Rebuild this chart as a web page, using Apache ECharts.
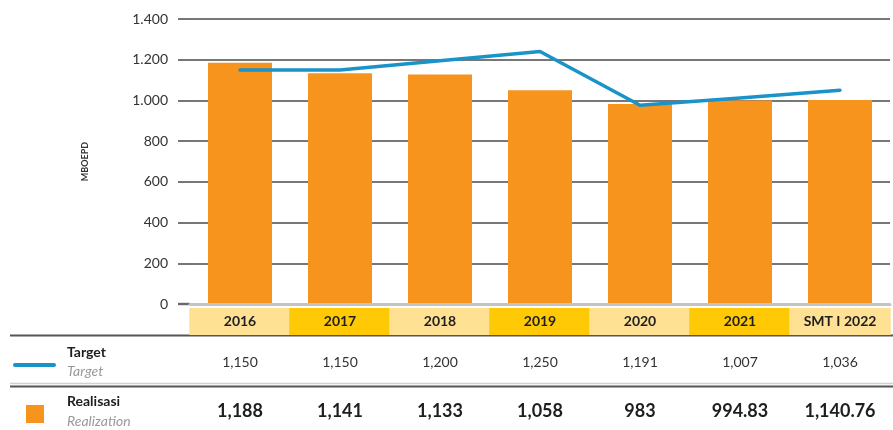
<!DOCTYPE html>
<html>
<head>
<meta charset="utf-8">
<script src="https://cdn.jsdelivr.net/npm/echarts@6/dist/echarts.min.js"></script>
<style>
  html, body { margin: 0; padding: 0; background: #fff; }
  #chart { width: 893px; height: 430px; }
</style>
</head>
<body>
<div id="chart"></div>
<script>
const categories = ['2016', '2017', '2018', '2019', '2020', '2021', 'SMT I 2022'];
const realisasiBars = [1185, 1133, 1127, 1050, 982, 1000, 1002];
const targetLine = [1150, 1150, 1195, 1240, 976, 1012, 1050];
const targetText = ['1,150', '1,150', '1,200', '1,250', '1,191', '1,007', '1,036'];
const realisasiText = ['1,188', '1,141', '1,133', '1,058', '983', '994.83', '1,140.76'];
const yMin = 0, yMax = 1400, yStep = 200;

const FONT = 'Lato';
const gridColor = '#4a4a4a';

function fmtThousand(v) {
  if (v < 1000) return String(v);
  return Math.floor(v / 1000) + '.' + String(v % 1000).padStart(3, '0');
}

const chart = echarts.init(document.getElementById('chart'));

const cell = {
  width: 101.5,
  height: 27,
  lineHeight: 27,
  align: 'center',
  fontFamily: FONT,
  fontWeight: 'bold',
  fontSize: 14,
  color: '#1e1e1e'
};

chart.setOption({
  animation: false,
  textStyle: { fontFamily: FONT },
  grid: { left: 190, top: 19, width: 710.5, height: 285 },
  xAxis: {
    type: 'category',
    data: categories,
    axisTick: { show: false },
    axisLine: { show: true, lineStyle: { color: '#c4c4c4', width: 3 } },
    z: 5,
    axisLabel: {
      interval: 0,
      margin: 4,
      formatter: (v, i) => (i % 2 === 0 ? '{a|' + v + '}' : '{b|' + v + '}'),
      rich: {
        a: Object.assign({ backgroundColor: '#FFE194' }, cell),
        b: Object.assign({ backgroundColor: '#FFC905' }, cell)
      }
    }
  },
  yAxis: {
    type: 'value',
    min: yMin,
    max: yMax,
    interval: yStep,
    name: 'MBOEPD',
    nameLocation: 'middle',
    nameGap: 100,
    nameTextStyle: { fontSize: 9, fontWeight: 'bold', color: '#333', fontFamily: FONT },
    axisLine: { show: false },
    axisTick: { show: true, inside: false, length: 12, lineStyle: { color: gridColor, width: 1.5 } },
    axisLabel: {
      margin: 22,
      fontSize: 14,
      color: '#333',
      fontFamily: FONT,
      formatter: fmtThousand
    },
    splitLine: { show: true, lineStyle: { color: gridColor, width: 1.5 } }
  },
  series: [
    {
      name: 'Realisasi',
      type: 'bar',
      data: realisasiBars,
      barWidth: 64,
      itemStyle: { color: '#F7941E' }
    },
    {
      name: 'Target',
      type: 'line',
      data: targetLine,
      symbol: 'none',
      z: 4,
      lineStyle: { color: '#1A93C9', width: 3.5, cap: 'round', join: 'round' }
    }
  ]
});

// table under the chart, aligned to the category axis
const xs = categories.map(c => chart.convertToPixel({ xAxisIndex: 0 }, c));
const graphic = [];

graphic.push({ type: 'line', shape: { x1: 10, y1: 335.5, x2: 893, y2: 335.5 }, style: { stroke: '#555', lineWidth: 2 } });
graphic.push({ type: 'line', shape: { x1: 10, y1: 383.5, x2: 893, y2: 383.5 }, style: { stroke: '#d0d0d0', lineWidth: 1.5 } });
graphic.push({ type: 'line', shape: { x1: 10, y1: 386.5, x2: 893, y2: 386.5 }, style: { stroke: '#555', lineWidth: 2 } });
graphic.push({ type: 'rect', shape: { x: 178, y: 302.5, width: 12, height: 3 }, style: { fill: '#c4c4c4' } });

// legend icons
graphic.push({ type: 'line', shape: { x1: 15, y1: 365, x2: 54, y2: 365 }, style: { stroke: '#1A93C9', lineWidth: 4, lineCap: 'round' } });
graphic.push({ type: 'rect', shape: { x: 26, y: 405, width: 18, height: 18 }, style: { fill: '#F7941E' } });

// row labels
const rowLabel = (text, y, bold) => ({
  type: 'text', x: 67, y: y,
  style: {
    text: text, fontFamily: FONT, fontSize: 14,
    fontWeight: bold ? 'bold' : 'normal',
    fontStyle: bold ? 'normal' : 'italic',
    fill: bold ? '#1e1e1e' : '#9a9a9a',
    verticalAlign: 'middle'
  }
});
graphic.push(rowLabel('Target', 352, true));
graphic.push(rowLabel('Target', 371, false));
graphic.push(rowLabel('Realisasi', 401, true));
graphic.push(rowLabel('Realization', 421, false));

xs.forEach((x, i) => {
  graphic.push({
    type: 'text', x: x, y: 362,
    style: { text: targetText[i], fontFamily: FONT, fontSize: 14, fill: '#333', align: 'center', verticalAlign: 'middle' }
  });
  graphic.push({
    type: 'text', x: x, y: 411,
    style: { text: realisasiText[i], fontFamily: FONT, fontSize: 18, fontWeight: 'bold', fill: '#1e1e1e', align: 'center', verticalAlign: 'middle' }
  });
});

chart.setOption({ graphic: graphic });
</script>
</body>
</html>
